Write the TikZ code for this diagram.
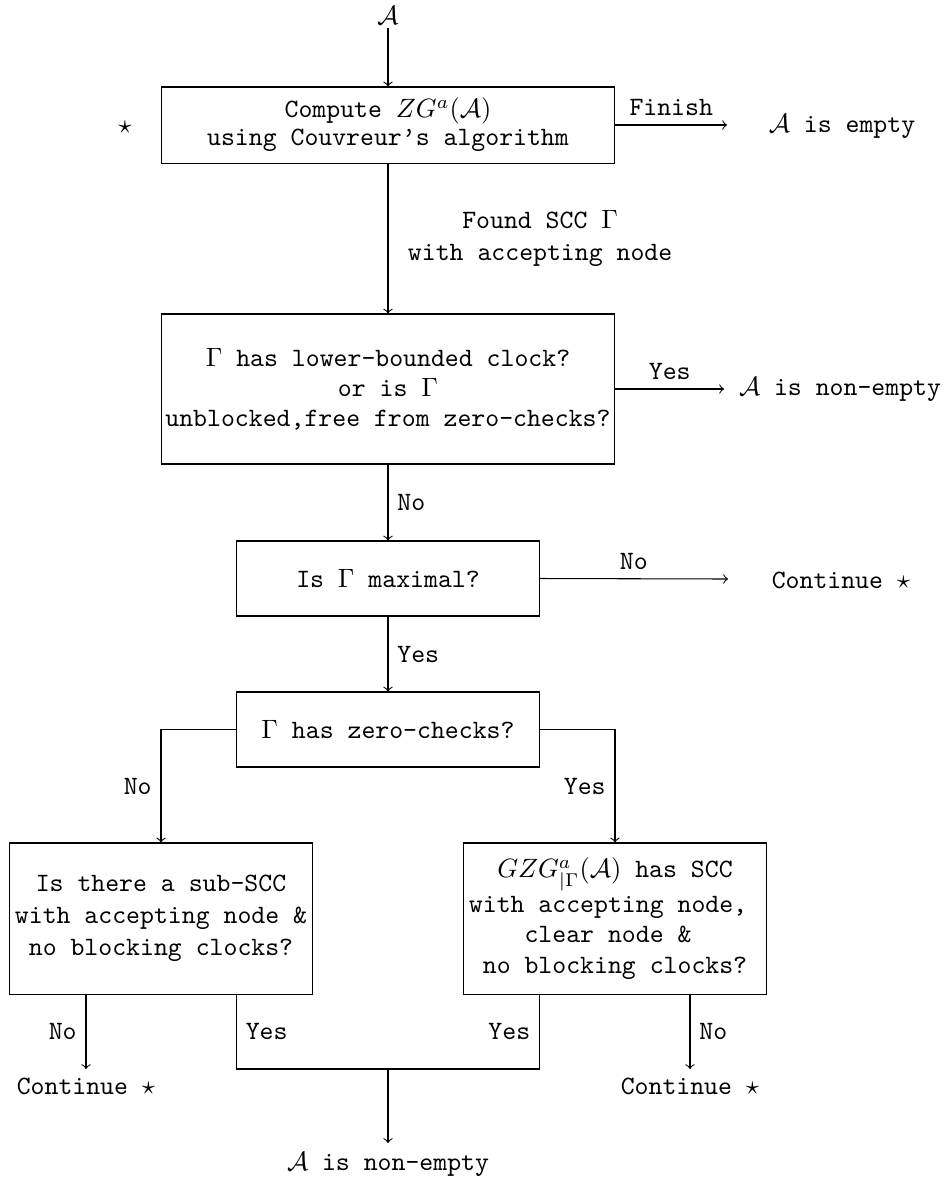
\documentclass[tikz,border=0pt]{standalone}
\usetikzlibrary{calc}
\begin{document}
\begin{tikzpicture}[x=0.3774pt,y=-0.3774pt,
  font=\ttfamily,
  box/.style={draw,rectangle,align=center,inner sep=0pt},
  widebox/.style={box,minimum width=171.3pt},
  narrowbox/.style={box,minimum width=114pt},
  arr/.style={->}]
\useasboundingbox (0,0) rectangle (947,1184);
% top
\node[inner sep=1pt] (A) at (388,15.5) {$\mathcal{A}$};
\node[widebox,minimum height=28.7pt] (b1) at (388,125) {Compute $ZG^a(\mathcal{A})$\\[-1.4pt]using Couvreur’s algorithm};
\node (star) at (125,127) {$\star$};
\coordinate (e1) at (727,125);
\node (emp) at (842,126) {$\mathcal{A}$ is empty};
\draw[arr] (A) -- (b1);
\draw[arr] (b1.east) -- node[above] {Finish} (e1);
% box 2
\node[widebox,minimum height=56.6pt] (b2) at (388,389) {$\Gamma$ has lower-bounded clock?\\[-0.6pt]or is $\Gamma$\\[-0.6pt]unblocked,free from zero-checks?};
\draw[arr] (b1) -- node[right=4pt,align=center] {Found SCC $\Gamma$\\with accepting node} (b2);
\coordinate (e2) at (724,389);
\node (ne1) at (840,389) {$\mathcal{A}$ is non-empty};
\draw[arr] (b2.east) -- node[above] {Yes} (e2);
% box 3
\node[narrowbox,minimum height=28.3pt] (b3) at (388,578.5) {Is $\Gamma$ maximal?};
\draw[arr] (b2) -- node[right] {No} (b3);
\coordinate (e3) at (728,579);
\node (c3) at (841,580) {Continue $\star$};
\draw[arr] (b3.east) -- node[above] {No} (e3);
% box 4
\node[narrowbox,minimum height=28.3pt] (b4) at (388,729.5) {$\Gamma$ has zero-checks?};
\draw[arr] (b3) -- node[right] {Yes} (b4);
% boxes 5 and 6
\node[narrowbox,minimum height=57pt] (b5) at (161,918.5) {Is there a sub-SCC\\with accepting node \&\\no blocking clocks?};
\node[narrowbox,minimum height=57pt] (b6) at (615,918.5) {$GZG^a_{|\Gamma}(\mathcal{A})$ has SCC\\[1pt]with accepting node,\hphantom{x}\\[-0.5pt]clear node \&\hphantom{x}\\[-0.5pt]no blocking clocks?};
\draw[arr] (b4.west) -| node[pos=0.75,left] {No} (b5.north);
\draw[arr] (b4.east) -| node[pos=0.75,left] {Yes} (b6.north);
% bottom
\coordinate (n5) at (86,994);
\node[anchor=north] (c5) at (86,1069) {Continue $\star$};
\draw[arr] (n5) -- node[left] {No} (c5);
\coordinate (n6) at (690,994);
\node[anchor=north] (c6) at (690,1069) {Continue $\star$};
\draw[arr] (n6) -- node[right] {No} (c6);
\coordinate (y5) at (b5.south -| b4.west);
\coordinate (y6) at (b6.south -| b4.east);
\coordinate (j) at (388,1069);
\draw (y5) -- node[right] {Yes} (y5 |- j) -- (y6 |- j) -- node[left] {Yes} (y6);
\node[anchor=north] (ne2) at (388,1143) {$\mathcal{A}$ is non-empty};
\draw[arr] (j) -- (ne2);
\end{tikzpicture}
\end{document}
